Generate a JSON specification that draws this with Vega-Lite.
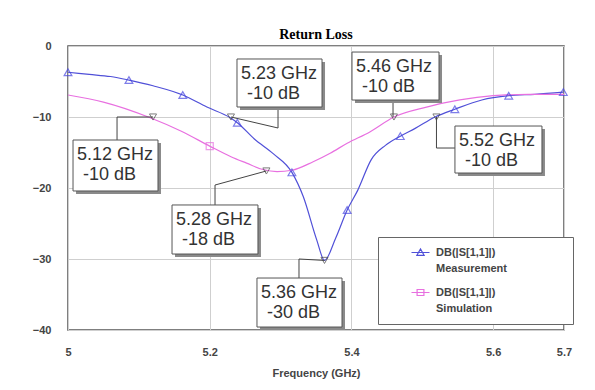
{
  "$schema": "https://vega.github.io/schema/vega-lite/v6.json",
  "autosize": "none",
  "width": 496,
  "height": 284,
  "padding": {"left": 68, "top": 46, "right": 31, "bottom": 60},
  "background": "white",
  "title": {"text": "Return Loss", "font": "Liberation Serif", "fontSize": 14, "fontWeight": "bold", "color": "#000000", "frame": "group", "anchor": "middle", "offset": -13, "baseline": "alphabetic"},
  "datasets": {
    "curves": [
      {"f": 5.000, "db": -3.7, "series": "Measurement"},
      {"f": 5.030, "db": -4.0, "series": "Measurement"},
      {"f": 5.060, "db": -4.3, "series": "Measurement"},
      {"f": 5.086, "db": -4.8, "series": "Measurement"},
      {"f": 5.120, "db": -5.6, "series": "Measurement"},
      {"f": 5.162, "db": -6.9, "series": "Measurement"},
      {"f": 5.196, "db": -8.6, "series": "Measurement"},
      {"f": 5.229, "db": -10.1, "series": "Measurement"},
      {"f": 5.239, "db": -10.8, "series": "Measurement"},
      {"f": 5.263, "db": -13.1, "series": "Measurement"},
      {"f": 5.290, "db": -15.2, "series": "Measurement"},
      {"f": 5.316, "db": -17.8, "series": "Measurement"},
      {"f": 5.332, "db": -21.2, "series": "Measurement"},
      {"f": 5.351, "db": -27.3, "series": "Measurement"},
      {"f": 5.362, "db": -30.2, "series": "Measurement"},
      {"f": 5.378, "db": -27.0, "series": "Measurement"},
      {"f": 5.394, "db": -23.1, "series": "Measurement"},
      {"f": 5.409, "db": -20.3, "series": "Measurement"},
      {"f": 5.428, "db": -16.0, "series": "Measurement"},
      {"f": 5.448, "db": -14.0, "series": "Measurement"},
      {"f": 5.469, "db": -12.7, "series": "Measurement"},
      {"f": 5.490, "db": -11.6, "series": "Measurement"},
      {"f": 5.518, "db": -10.0, "series": "Measurement"},
      {"f": 5.546, "db": -8.9, "series": "Measurement"},
      {"f": 5.584, "db": -7.6, "series": "Measurement"},
      {"f": 5.622, "db": -7.0, "series": "Measurement"},
      {"f": 5.659, "db": -6.8, "series": "Measurement"},
      {"f": 5.699, "db": -6.5, "series": "Measurement"},
      {"f": 5.000, "db": -6.9, "series": "Simulation"},
      {"f": 5.050, "db": -7.9, "series": "Simulation"},
      {"f": 5.116, "db": -10.1, "series": "Simulation"},
      {"f": 5.160, "db": -12.0, "series": "Simulation"},
      {"f": 5.200, "db": -14.1, "series": "Simulation"},
      {"f": 5.230, "db": -15.6, "series": "Simulation"},
      {"f": 5.252, "db": -16.5, "series": "Simulation"},
      {"f": 5.275, "db": -17.4, "series": "Simulation"},
      {"f": 5.295, "db": -17.7, "series": "Simulation"},
      {"f": 5.316, "db": -17.5, "series": "Simulation"},
      {"f": 5.346, "db": -16.3, "series": "Simulation"},
      {"f": 5.370, "db": -15.1, "series": "Simulation"},
      {"f": 5.394, "db": -13.7, "series": "Simulation"},
      {"f": 5.426, "db": -12.1, "series": "Simulation"},
      {"f": 5.460, "db": -10.0, "series": "Simulation"},
      {"f": 5.506, "db": -8.6, "series": "Simulation"},
      {"f": 5.553, "db": -7.6, "series": "Simulation"},
      {"f": 5.600, "db": -7.0, "series": "Simulation"},
      {"f": 5.650, "db": -6.8, "series": "Simulation"},
      {"f": 5.700, "db": -6.8, "series": "Simulation"}
    ],
    "seriesMarkers": [
      {"f": 5.000, "db": -3.7, "series": "Measurement"},
      {"f": 5.086, "db": -4.8, "series": "Measurement"},
      {"f": 5.162, "db": -6.9, "series": "Measurement"},
      {"f": 5.239, "db": -10.8, "series": "Measurement"},
      {"f": 5.316, "db": -17.8, "series": "Measurement"},
      {"f": 5.394, "db": -23.1, "series": "Measurement"},
      {"f": 5.469, "db": -12.7, "series": "Measurement"},
      {"f": 5.546, "db": -8.9, "series": "Measurement"},
      {"f": 5.622, "db": -7.0, "series": "Measurement"},
      {"f": 5.699, "db": -6.5, "series": "Measurement"},
      {"f": 5.200, "db": -14.1, "series": "Simulation"}
    ],
    "markers": [
      {"f": 5.23, "db": -10.0},
      {"f": 5.362, "db": -30.2},
      {"f": 5.52, "db": -10.0},
      {"f": 5.12, "db": -10.0},
      {"f": 5.28, "db": -17.6},
      {"f": 5.46, "db": -10.0}
    ],
    "boxes": [
      {"l1": "5.23 GHz", "l2": "-10 dB", "x1": 5.2385, "x2": 5.3585, "y1": -1.83, "y2": -8.59},
      {"l1": "5.12 GHz", "l2": "-10 dB", "x1": 5.0071, "x2": 5.1270, "y1": -13.24, "y2": -20.42},
      {"l1": "5.28 GHz", "l2": "-18 dB", "x1": 5.1468, "x2": 5.2681, "y1": -22.39, "y2": -29.30},
      {"l1": "5.36 GHz", "l2": "-30 dB", "x1": 5.2667, "x2": 5.3867, "y1": -32.68, "y2": -39.58},
      {"l1": "5.46 GHz", "l2": "-10 dB", "x1": 5.4008, "x2": 5.5236, "y1": -0.85, "y2": -7.61},
      {"l1": "5.52 GHz", "l2": "-10 dB", "x1": 5.5461, "x2": 5.6689, "y1": -11.27, "y2": -17.89}
    ],
    "leaders": [
      {"id": 1, "seq": 1, "f": 5.2964, "db": -8.59},
      {"id": 1, "seq": 2, "f": 5.2964, "db": -11.55},
      {"id": 1, "seq": 3, "f": 5.23, "db": -10.0},
      {"id": 2, "seq": 1, "f": 5.0692, "db": -13.24},
      {"id": 2, "seq": 2, "f": 5.0692, "db": -10.0},
      {"id": 2, "seq": 3, "f": 5.12, "db": -10.0},
      {"id": 3, "seq": 1, "f": 5.2075, "db": -22.39},
      {"id": 3, "seq": 2, "f": 5.2075, "db": -19.58},
      {"id": 3, "seq": 3, "f": 5.28, "db": -17.6},
      {"id": 4, "seq": 1, "f": 5.326, "db": -32.68},
      {"id": 4, "seq": 2, "f": 5.326, "db": -30.0},
      {"id": 4, "seq": 3, "f": 5.362, "db": -30.2},
      {"id": 5, "seq": 1, "f": 5.4587, "db": -7.61},
      {"id": 5, "seq": 2, "f": 5.4587, "db": -10.0},
      {"id": 6, "seq": 1, "f": 5.52, "db": -10.0},
      {"id": 6, "seq": 2, "f": 5.52, "db": -14.37},
      {"id": 6, "seq": 3, "f": 5.5461, "db": -14.37}
    ]
  },
  "layer": [
    {
      "data": {"name": "curves"},
      "mark": {"type": "line", "interpolate": "monotone", "strokeWidth": 1.2},
      "encoding": {
        "x": {"field": "f", "type": "quantitative", "scale": {"domain": [5, 5.7], "nice": false, "zero": false},
              "axis": {"values": [5, 5.2, 5.4, 5.6, 5.7], "title": "Frequency (GHz)", "labelFlush": false, "labelPadding": 16, "titlePadding": 10, "format": "~g"}},
        "y": {"field": "db", "type": "quantitative", "scale": {"domain": [-40, 0], "nice": false, "zero": false},
              "axis": {"values": [0, -10, -20, -30, -40], "title": null, "labelPadding": 17, "format": "~g"}},
        "color": {"field": "series", "type": "nominal",
                  "scale": {"domain": ["Measurement", "Simulation"], "range": ["#5050d8", "#e870e0"]},
                  "legend": {
                    "title": null, "orient": "none", "legendX": 310, "legendY": 191,
                    "padding": 10, "strokeColor": "#666666", "fillColor": "white",
                    "symbolSize": 64, "symbolOffset": 27, "labelOffset": 10,
                    "labelFont": "Liberation Sans", "labelFontSize": 11, "labelFontWeight": "bold", "labelColor": "#444444",
                    "rowPadding": 12, "labelLimit": 300,
                    "labelExpr": "['DB(|S[1,1]|)', datum.label + '\u2800\u2800\u2800\u2800\u2800\u2800\u2800']",
                    "encode": {
                      "symbols": {"update": {
                        "shape": {"signal": "datum.value === 'Measurement' ? 'M-2.25,0H2.25M-0.9,0.7L0,-0.9L0.9,0.7Z' : 'M-2.25,0H2.25M-0.85,-0.75H0.85V0.75H-0.85Z'"},
                        "fill": {"value": "transparent"},
                        "strokeWidth": {"value": 1.2}
                      }},
                      "labels": {"update": {"lineHeight": {"value": 16}}}
                    }
                  }}
      }
    },
    {
      "data": {"name": "leaders"},
      "mark": {"type": "line", "color": "#444444", "strokeWidth": 1},
      "encoding": {
        "x": {"field": "f", "type": "quantitative"},
        "y": {"field": "db", "type": "quantitative"},
        "detail": {"field": "id", "type": "nominal"},
        "order": {"field": "seq", "type": "quantitative"}
      }
    },
    {
      "data": {"name": "seriesMarkers"},
      "transform": [{"filter": "datum.series === 'Measurement'"}],
      "mark": {"type": "point", "filled": false, "shape": "triangle-up", "size": 60, "color": "#4848e0", "strokeWidth": 1.2},
      "encoding": {
        "x": {"field": "f", "type": "quantitative"},
        "y": {"field": "db", "type": "quantitative"}
      }
    },
    {
      "data": {"name": "seriesMarkers"},
      "transform": [{"filter": "datum.series === 'Simulation'"}],
      "mark": {"type": "point", "filled": false, "shape": "square", "size": 50, "color": "#e870e0", "strokeWidth": 1.2},
      "encoding": {
        "x": {"field": "f", "type": "quantitative"},
        "y": {"field": "db", "type": "quantitative"}
      }
    },
    {
      "data": {"name": "markers"},
      "mark": {"type": "point", "filled": false, "shape": "triangle-down", "size": 50, "color": "#444444", "strokeWidth": 1},
      "encoding": {
        "x": {"field": "f", "type": "quantitative"},
        "y": {"field": "db", "type": "quantitative"}
      }
    },
    {
      "data": {"name": "boxes"},
      "mark": {"type": "rect", "fill": "#8a8a8a", "xOffset": 3, "x2Offset": 3, "yOffset": 3, "y2Offset": 3},
      "encoding": {
        "x": {"field": "x1", "type": "quantitative"},
        "x2": {"field": "x2"},
        "y": {"field": "y1", "type": "quantitative"},
        "y2": {"field": "y2"}
      }
    },
    {
      "data": {"name": "boxes"},
      "mark": {"type": "rect", "fill": "white", "stroke": "#555555", "strokeWidth": 1},
      "encoding": {
        "x": {"field": "x1", "type": "quantitative"},
        "x2": {"field": "x2"},
        "y": {"field": "y1", "type": "quantitative"},
        "y2": {"field": "y2"}
      }
    },
    {
      "data": {"name": "boxes"},
      "mark": {"type": "text", "align": "left", "baseline": "top", "dx": 4, "dy": 6, "font": "Liberation Sans", "fontSize": 18, "color": "#333333"},
      "encoding": {
        "x": {"field": "x1", "type": "quantitative"},
        "y": {"field": "y1", "type": "quantitative"},
        "text": {"field": "l1", "type": "nominal"}
      }
    },
    {
      "data": {"name": "boxes"},
      "mark": {"type": "text", "align": "left", "baseline": "top", "dx": 10, "dy": 26, "font": "Liberation Sans", "fontSize": 18, "color": "#333333"},
      "encoding": {
        "x": {"field": "x1", "type": "quantitative"},
        "y": {"field": "y1", "type": "quantitative"},
        "text": {"field": "l2", "type": "nominal"}
      }
    }
  ],
  "config": {
    "view": {"stroke": "#555555", "strokeWidth": 1.5},
    "axis": {
      "labelFont": "Liberation Sans", "labelFontSize": 11, "labelFontWeight": "bold", "labelColor": "#444444",
      "ticks": false, "domain": false, "grid": true, "gridColor": "#cfcfcf", "gridWidth": 1,
      "titleFont": "Liberation Sans", "titleFontSize": 11, "titleFontWeight": "bold", "titleColor": "#444444"
    }
  }
}
